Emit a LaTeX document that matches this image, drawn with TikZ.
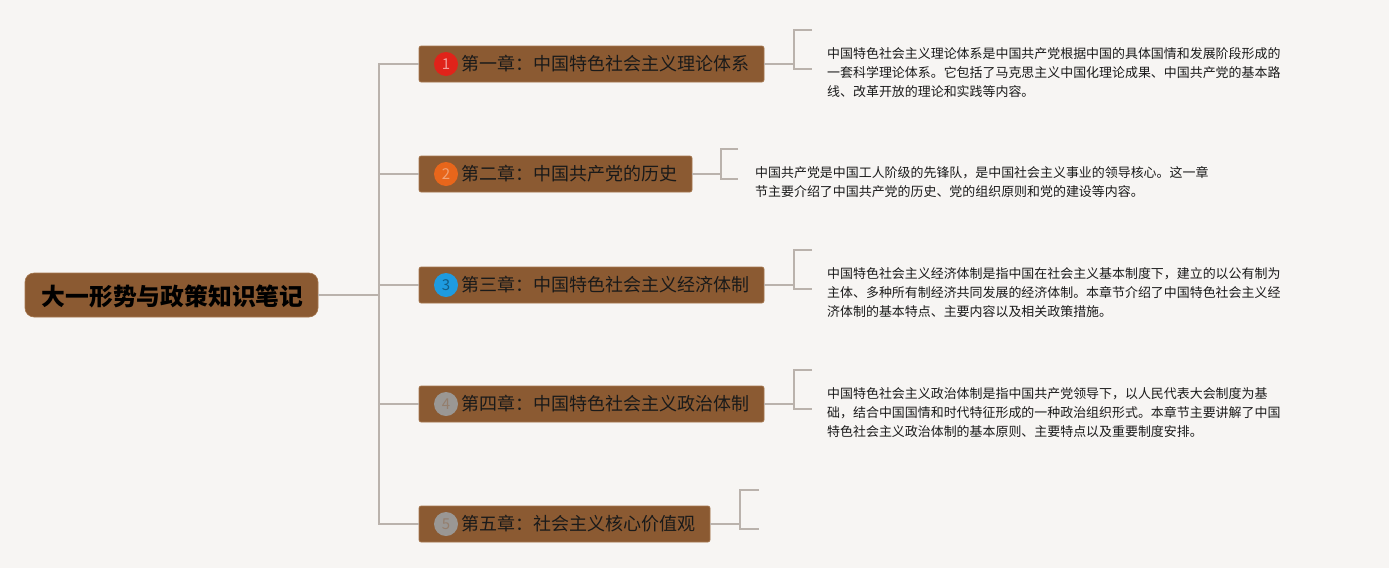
\documentclass[tikz,border=0pt]{standalone}
\usepackage{fontspec}
\setmainfont{Noto Sans CJK SC}
\newfontfamily\cjk{Noto Sans CJK SC}
\definecolor{bgc}{HTML}{F7F5F3}
\definecolor{brownfill}{HTML}{8B5A32}
\definecolor{brownline}{HTML}{A5784F}
\definecolor{connc}{HTML}{BAB2AC}
\definecolor{txtc}{HTML}{1A1A1A}
\definecolor{ired}{HTML}{E0231A}
\definecolor{iorange}{HTML}{E8661B}
\definecolor{iblue}{HTML}{1E9BE0}
\definecolor{igray}{HTML}{9A9794}
\definecolor{notebg}{HTML}{FAF9F8}
\tikzset{
  conn/.style={draw=connc, line width=1.6pt},
  rootbox/.style={fill=brownfill, draw=brownline, line width=0.6pt, rounded corners=9pt, minimum width=293pt, minimum height=44pt, inner sep=0pt},
  chapbox/.style={fill=brownfill, draw=brownline, line width=0.6pt, rounded corners=2pt, minimum height=36pt, inner sep=0pt},
  chaptext/.style={anchor=west, inner sep=0pt, text=txtc, font=\fontsize{18}{20}\selectfont},
  icon/.style={circle, fill=#1, minimum size=24pt, inner sep=0pt, font=\fontsize{15}{15}\selectfont},
  note/.style={anchor=north west, inner sep=0pt, text=txtc, align=left, font=\fontsize{12.95}{19.3}\selectfont},
}
\begin{document}
\begin{tikzpicture}[x=1pt,y=-1pt]
\fill[bgc] (0,0) rectangle (1389,568);
\useasboundingbox (0,0) rectangle (1389,568);

% root
\node[rootbox] (root) at (171.5,295) {};
\node[inner sep=0pt, font=\fontsize{23.8}{24}\selectfont\bfseries, text=black] (roottext) at (172.5,296) {大一形势与政策知识笔记};

% chapter boxes
\node[chapbox, minimum width=345pt] (c1) at (591.5,64) {};
\node[chapbox, minimum width=273pt] (c2) at (555.5,174) {};
\node[chapbox, minimum width=345pt] (c3) at (591.5,285) {};
\node[chapbox, minimum width=345pt] (c4) at (591.5,404) {};
\node[chapbox, minimum width=291pt] (c5) at (564.5,524) {};

\node[icon=ired, text=ired!45!white] (i1) at (446,64) {1};
\node[icon=iorange, text=iorange!60!white] (i2) at (446,174) {2};
\node[icon=iblue, text=iblue!60!black] (i3) at (446,285) {3};
\node[icon=igray, text=igray!60!brownfill] (i4) at (446,404) {4};
\node[icon=igray, text=igray!60!brownfill] (i5) at (446,524) {5};

\node[chaptext] (t1) at (461,64) {第一章：中国特色社会主义理论体系};
\node[chaptext] (t2) at (461,174) {第二章：中国共产党的历史};
\node[chaptext] (t3) at (461,285) {第三章：中国特色社会主义经济体制};
\node[chaptext] (t4) at (461,404) {第四章：中国特色社会主义政治体制};
\node[chaptext] (t5) at (461,524) {第五章：社会主义核心价值观};

% trunk
\coordinate (tr) at (379,295);
\draw[conn] (root.east) -- (tr);
\draw[conn] (tr) |- (c1.west);
\draw[conn] (tr) |- (c2.west);
\draw[conn] (tr) |- (c3.west);
\draw[conn] (tr) |- (c4.west);
\draw[conn] (tr) |- (c5.west);

% brackets
\coordinate (b1) at (794,64);
\draw[conn] (c1.east) -- (b1);
\draw[conn] (812,30) -- (794,30) -- (794,69) -- (812,69);
\coordinate (b2) at (721,174);
\draw[conn] (c2.east) -- (b2);
\draw[conn] (738,149) -- (721,149) -- (721,179) -- (738,179);
\coordinate (b3) at (794,285);
\draw[conn] (c3.east) -- (b3);
\draw[conn] (812,250) -- (794,250) -- (794,289) -- (812,289);
\coordinate (b4) at (794,404);
\draw[conn] (c4.east) -- (b4);
\draw[conn] (812,370) -- (794,370) -- (794,409) -- (812,409);
\coordinate (b5) at (740,524);
\draw[conn] (c5.east) -- (b5);
\draw[conn] (759,490) -- (740,490) -- (740,529) -- (759,529);

% notes
\node[note] (n1) at (827,47) {中国特色社会主义理论体系是中国共产党根据中国的具体国情和发展阶段形成的\\一套科学理论体系。它包括了马克思主义中国化理论成果、中国共产党的基本路\\线、改革开放的理论和实践等内容。};
\node[note] (n2) at (755,166) {中国共产党是中国工人阶级的先锋队，是中国社会主义事业的领导核心。这一章\\节主要介绍了中国共产党的历史、党的组织原则和党的建设等内容。};
\node[note] (n3) at (827,267) {中国特色社会主义经济体制是指中国在社会主义基本制度下，建立的以公有制为\\主体、多种所有制经济共同发展的经济体制。本章节介绍了中国特色社会主义经\\济体制的基本特点、主要内容以及相关政策措施。};
\node[note] (n4) at (827,387) {中国特色社会主义政治体制是指中国共产党领导下，以人民代表大会制度为基\\础，结合中国国情和时代特征形成的一种政治组织形式。本章节主要讲解了中国\\特色社会主义政治体制的基本原则、主要特点以及重要制度安排。};
\end{tikzpicture}
\end{document}
